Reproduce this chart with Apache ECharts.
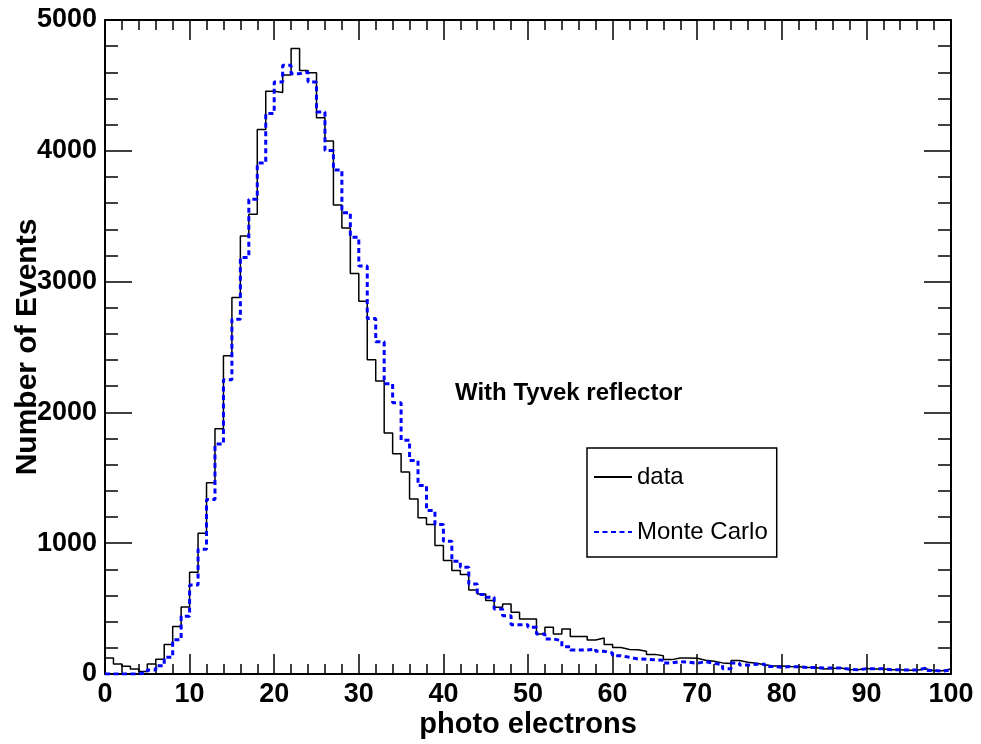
<!DOCTYPE html>
<html>
<head>
<meta charset="utf-8">
<script src="https://cdn.jsdelivr.net/npm/echarts@6/dist/echarts.min.js"></script>
<style>
html,body{margin:0;padding:0;background:#fff;}
#chart{width:981px;height:744px;}
</style>
</head>
<body>
<div id="chart"></div>
<script>
// Histogram binning (photo electrons), 100 bins of width 1 from 0 to 100
const binStart = 0;
const binWidth = 1;

// Measured data histogram (counts per bin)
const dataCounts = [
  123, 77, 59, 38, 20, 77, 113, 226, 364, 513,
  777, 1077, 1462, 1875, 2434, 2879, 3348, 3514, 4162, 4455,
  4445, 4580, 4782, 4614, 4596, 4252, 4074, 3586, 3410, 3061,
  2850, 2403, 2240, 1843, 1684, 1544, 1338, 1194, 1143, 982,
  867, 791, 760, 643, 612, 561, 510, 536, 472, 421,
  421, 306, 357, 306, 344, 286, 286, 260, 275, 225,
  202, 188, 185, 174, 150, 140, 110, 123, 123, 120,
  105, 97, 85, 80, 103, 90, 82, 70, 62, 62,
  57, 56, 50, 50, 38, 42, 45, 35, 33, 42,
  38, 38, 32, 32, 28, 28, 40, 25, 25, 38
];

// Monte Carlo histogram (counts per bin)
const mcCounts = [
  0, 0, 0, 0, 13, 30, 64, 128, 261, 441,
  680, 954, 1335, 1758, 2250, 2712, 3184, 3629, 3906, 4286,
  4526, 4654, 4590, 4603, 4526, 4297, 4002, 3853, 3527, 3340,
  3119, 2718, 2540, 2219, 2074, 1787, 1632, 1441, 1250, 1143,
  1015, 862, 816, 689, 607, 587, 497, 446, 377, 377,
  357, 306, 268, 255, 209, 184, 184, 191, 174, 160,
  140, 128, 115, 112, 108, 105, 85, 95, 90, 82,
  95, 82, 70, 40, 85, 68, 75, 75, 58, 52,
  57, 55, 50, 50, 45, 45, 45, 37, 32, 40,
  40, 40, 32, 32, 30, 30, 45, 27, 22, 32
];

const seriesNames = ['data', 'Monte Carlo'];
const xTitle = 'photo electrons';
const yTitle = 'Number of Events';
const note = 'With Tyvek reflector';
const xRange = [0, 100];
const yRange = [0, 5000];
const xStep = 10;
const yStep = 1000;

function toSteps(counts) {
  const pts = counts.map((v, i) => [binStart + i * binWidth, v]);
  pts.push([binStart + counts.length * binWidth, counts[counts.length - 1]]);
  return pts;
}

const FONT = '"Liberation Sans", Arial, Helvetica, sans-serif';
const chart = echarts.init(document.getElementById('chart'), null, {renderer: 'canvas'});

const axisLineStyle = {color: '#000', width: 2};
const tickLineStyle = {color: '#000', width: 1.5};

const option = {
  animation: false,
  backgroundColor: '#fff',
  grid: {left: 105, right: 30, top: 20, bottom: 70, containLabel: false, outerBoundsMode: 'none'},
  legend: {
    orient: 'vertical',
    left: 587,
    top: 448,
    padding: [17, 9, 13, 6],
    itemGap: 31,
    itemWidth: 38,
    itemHeight: 14,
    backgroundColor: '#fff',
    borderColor: '#000',
    borderWidth: 1.5,
    borderRadius: 0,
    itemStyle: {color: 'rgba(0,0,0,0)', borderWidth: 0, borderColor: 'rgba(0,0,0,0)'},
    textStyle: {fontFamily: FONT, fontSize: 24, color: '#000'},
    data: seriesNames
  },
  graphic: [{
    type: 'text',
    left: 455,
    top: 381,
    style: {text: note, font: 'bold 24px ' + FONT, fill: '#000'}
  }],
  xAxis: [{
    type: 'value',
    min: xRange[0], max: xRange[1], interval: xStep,
    name: xTitle, nameLocation: 'middle', nameGap: 36, nameMoveOverlap: false,
    nameTextStyle: {fontFamily: FONT, fontSize: 29, fontWeight: 'bold', color: '#000'},
    axisLine: {show: true, onZero: false, lineStyle: axisLineStyle},
    axisTick: {show: true, inside: true, length: 20, lineStyle: tickLineStyle},
    minorTick: {show: true, splitNumber: 5, length: 10, lineStyle: tickLineStyle},
    axisLabel: {fontFamily: FONT, fontSize: 27, fontWeight: 'bold', color: '#000', margin: 7,
      formatter: v => String(v)},
    splitLine: {show: false}
  }, {
    type: 'value', position: 'top',
    min: xRange[0], max: xRange[1], interval: xStep,
    axisLine: {show: true, onZero: false, lineStyle: axisLineStyle},
    axisTick: {show: true, inside: true, length: 20, lineStyle: tickLineStyle},
    minorTick: {show: true, splitNumber: 5, length: 10, lineStyle: tickLineStyle},
    axisLabel: {show: false},
    splitLine: {show: false}
  }],
  yAxis: [{
    type: 'value',
    min: yRange[0], max: yRange[1], interval: yStep,
    name: yTitle, nameLocation: 'middle', nameGap: 62, nameRotate: 90, nameMoveOverlap: false,
    nameTextStyle: {fontFamily: FONT, fontSize: 30, fontWeight: 'bold', color: '#000'},
    axisLine: {show: true, onZero: false, lineStyle: axisLineStyle},
    axisTick: {show: true, inside: true, length: 27, lineStyle: tickLineStyle},
    minorTick: {show: true, splitNumber: 5, length: 13, lineStyle: tickLineStyle},
    axisLabel: {fontFamily: FONT, fontSize: 27, fontWeight: 'bold', color: '#000', margin: 8,
      formatter: v => String(v)},
    splitLine: {show: false}
  }, {
    type: 'value', position: 'right',
    min: yRange[0], max: yRange[1], interval: yStep,
    axisLine: {show: true, onZero: false, lineStyle: axisLineStyle},
    axisTick: {show: true, inside: true, length: 27, lineStyle: tickLineStyle},
    minorTick: {show: true, splitNumber: 5, length: 13, lineStyle: tickLineStyle},
    axisLabel: {show: false},
    splitLine: {show: false}
  }],
  series: [{
    name: seriesNames[0],
    type: 'line',
    step: 'end',
    xAxisIndex: 0, yAxisIndex: 0,
    symbol: 'none', showSymbol: false,
    color: '#000',
    lineStyle: {color: '#000', width: 1.5},
    data: toSteps(dataCounts),
    z: 2
  }, {
    name: seriesNames[1],
    type: 'line',
    step: 'end',
    xAxisIndex: 0, yAxisIndex: 0,
    symbol: 'none', showSymbol: false,
    color: '#0000ff',
    lineStyle: {color: '#0000ff', width: 3, type: [5, 3.5]},
    data: toSteps(mcCounts),
    z: 3
  }]
};
chart.setOption(option);
</script>
</body>
</html>
